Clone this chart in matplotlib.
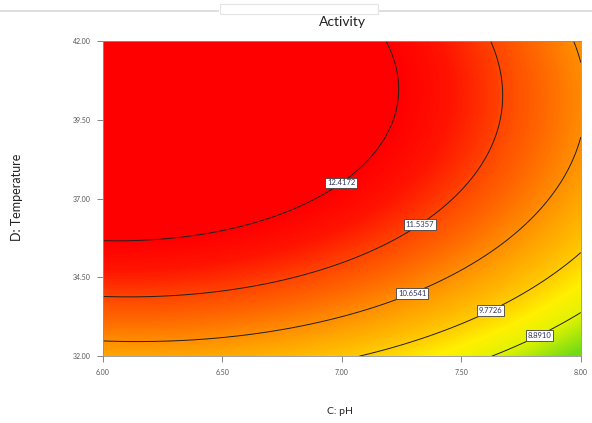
import numpy as np
import matplotlib
matplotlib.use("Agg")
import matplotlib.pyplot as plt
from matplotlib.colors import LinearSegmentedColormap
from matplotlib.lines import Line2D
from matplotlib.patches import Rectangle

plt.rcParams['font.family'] = ['Lato', 'DejaVu Sans']

# Quadratic response-surface model (coded: A = pH - 7, B = (T - 37) / 5)
intercept = 12.283
coef_A = -1.299
coef_B = 1.427
coef_AB = -0.176
coef_A2 = -0.666
coef_B2 = -0.998

ph_range = [6.0, 8.0]
temp_range = [32.0, 42.0]
contour_levels = [8.8910, 9.7726, 10.6541, 11.5357, 12.4172]
x_ticks = [6.00, 6.50, 7.00, 7.50, 8.00]
y_ticks = [32.00, 34.50, 37.00, 39.50, 42.00]
label_pos = [(7.816, 32.83), (7.62, 33.46), (7.297, 33.94), (7.343, 36.0), (7.01, 37.37)]

ph = np.linspace(ph_range[0], ph_range[1], 300)
temp = np.linspace(temp_range[0], temp_range[1], 300)
PH, TT = np.meshgrid(ph, temp)
a = PH - 7
b = (TT - 37) / 5
Z = intercept + coef_A*a + coef_B*b + coef_AB*a*b + coef_A2*a*a + coef_B2*b*b

vmin, vmax = 8.2, 12.4
def pos(v):
    return (v - vmin) / (vmax - vmin)
cmap = LinearSegmentedColormap.from_list("de", [
    (0.0, (0.45, 0.86, 0.08)),
    (pos(8.89), (0.88, 0.95, 0.0)),
    (pos(9.35), (1.0, 0.94, 0.0)),
    (pos(9.77), (1.0, 0.80, 0.0)),
    (pos(10.3), (1.0, 0.66, 0.0)),
    (pos(10.65), (1.0, 0.56, 0.0)),
    (pos(11.54), (1.0, 0.27, 0.0)),
    (pos(12.0), (1.0, 0.08, 0.0)),
    (1.0, (1.0, 0.0, 0.0))])

fig = plt.figure(figsize=(5.92, 4.23), dpi=100)
ax = fig.add_axes([0.174, 0.158, 0.807, 0.745])
ax.contourf(PH, TT, Z, levels=256, cmap=cmap, vmin=vmin, vmax=vmax, extend='both')
cs = ax.contour(PH, TT, Z, levels=contour_levels, colors='#202020', linewidths=0.7)
labels = ax.clabel(cs, fmt={lv: f"{lv:.4f}" for lv in contour_levels}, manual=label_pos,
                   inline=False, fontsize=5.5, colors='#303060')
for t in labels:
    t.set_rotation(0)
    t.set_bbox(dict(boxstyle='square,pad=0.25', fc='white', ec='#404040', lw=0.6))

ax.set_xlim(*ph_range)
ax.set_ylim(*temp_range)
ax.set_xticks(x_ticks)
ax.set_yticks(y_ticks)
ax.set_xticklabels([f"{v:.2f}" for v in x_ticks])
ax.set_yticklabels([f"{v:.2f}" for v in y_ticks])
ax.tick_params(direction='out', length=4, width=0.6, colors='#707070', labelsize=5, pad=5,
               labelcolor='#555555')
for s in ax.spines.values():
    s.set_color('#909090')
    s.set_linewidth(0.6)

fig.text(342/592, 1 - 22/423, "Activity", ha='center', va='center', fontsize=10, color='#222222')
fig.text(17/592, 0.534, "D: Temperature", ha='center', va='center', rotation=90, fontsize=9, color='#222222')
fig.text(340/592, 1 - 411/423, "C: pH", ha='center', va='center', fontsize=7.5, color='#222222')

# page decoration at top
fig.add_artist(Line2D([0, 218/592], [1 - 11/423]*2, color='#d8d8d8', lw=1.2))
fig.add_artist(Line2D([380/592, 1], [1 - 11/423]*2, color='#d8d8d8', lw=1.2))
fig.add_artist(Rectangle((220/592, 1 - 14/423), 158/592, 10/423, fill=False, ec='#e4e4e4', lw=0.8))

fig.savefig("out.png", dpi=100)
